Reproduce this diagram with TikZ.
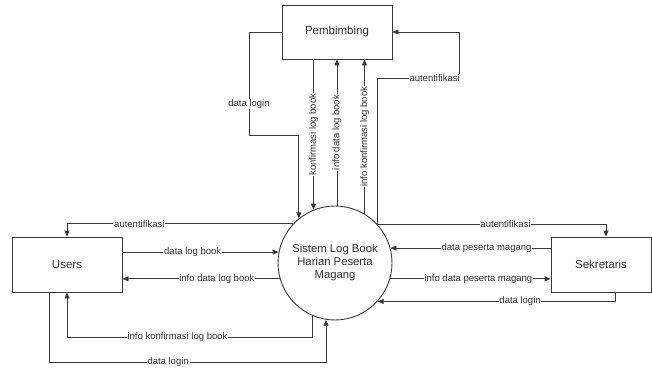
\documentclass[tikz,border=0pt]{standalone}
\usepackage{fontspec}
\setmainfont{Liberation Sans}
\usetikzlibrary{arrows.meta}

\definecolor{linegray}{HTML}{383838}
\definecolor{textgray}{HTML}{2E2E2E}

\tikzset{
  entity/.style={draw=linegray, line width=0.9pt, rectangle, minimum width=110pt, minimum height=55pt, text=textgray, font=\fontsize{11.5}{13}\selectfont},
  proc/.style={draw=linegray, line width=0.9pt, circle, minimum size=114pt, inner sep=0pt, align=center, text=textgray, font=\fontsize{11.3}{13}\selectfont},
  flow/.style={draw=linegray, line width=0.9pt, -{Triangle[length=6pt,width=5pt]}},
  lbl/.style={fill=white, inner sep=0.8pt, text=textgray, font=\fontsize{9.5}{10}\selectfont}
}

\begin{document}
\begin{tikzpicture}[x=1pt, y=-1pt]
  \useasboundingbox (0,0) rectangle (652,367);

  \node[entity, minimum height=54pt] (pem) at (337, 32) {Pembimbing};
  \node[entity] (users) at (67, 264.5) {Users};
  \node[entity, minimum width=100pt] (sek) at (601, 264.5) {Sekretaris};
  \node[proc] (sys) at (335, 263) {Sistem Log Book\\Harian Peserta\\Magang};

  \coordinate (pl) at (249, 135);
  \coordinate (pa) at (459, 78);
  \coordinate (uk) at (67, 337);
  \coordinate (ul) at (49, 362);

  \draw[flow] (pem.west) -| node[lbl, pos=0.85] {data login} (pl) -| (sys.129);
  \draw[flow] (pem.south -| sys.112) -- node[lbl, rotate=90] {konfirmasi log book} (sys.112);
  \draw[flow] (sys.88) -- node[lbl, rotate=90] {info data log book} (sys.88 |- pem.south);
  \draw[flow] (sys.59) -- node[lbl, rotate=90] {info konfirmasi log book} (sys.59 |- pem.south);
  \draw[flow] (sys.42.5) |- node[lbl, pos=0.85] {autentifikasi} (pa) |- (pem.east);

  \draw[flow] (sys.137.5) -| node[lbl, pos=0.34] {autentifikasi} (users.north);
  \draw[flow] (users.east |- sys.169) -- node[lbl, pos=0.45] {data log book} (sys.169);
  \draw[flow] (sys.196) -- node[lbl, pos=0.4] {info data log book} (sys.196 -| users.east);
  \draw[flow] (sys.247) |- node[lbl, pos=0.775] {info konfirmasi log book} (uk) -- (users.south);
  \draw[flow] (ul |- users.south) -- (ul) -| node[lbl, pos=0.215] {data login} (sys.261);

  \draw[flow] (sys.42.5) -| node[lbl, pos=0.28] {autentifikasi} ([xshift=5pt]sek.north);
  \draw[flow] (sek.west |- sys.15) -- node[lbl, pos=0.4] {data peserta magang} (sys.15);
  \draw[flow] (sys.344) -- node[lbl, pos=0.55] {info data peserta magang} (sys.344 -| sek.west);
  \draw[flow] ([xshift=14pt]sek.south) |- node[lbl, pos=0.7] {data login} (sys.318);
\end{tikzpicture}
\end{document}
